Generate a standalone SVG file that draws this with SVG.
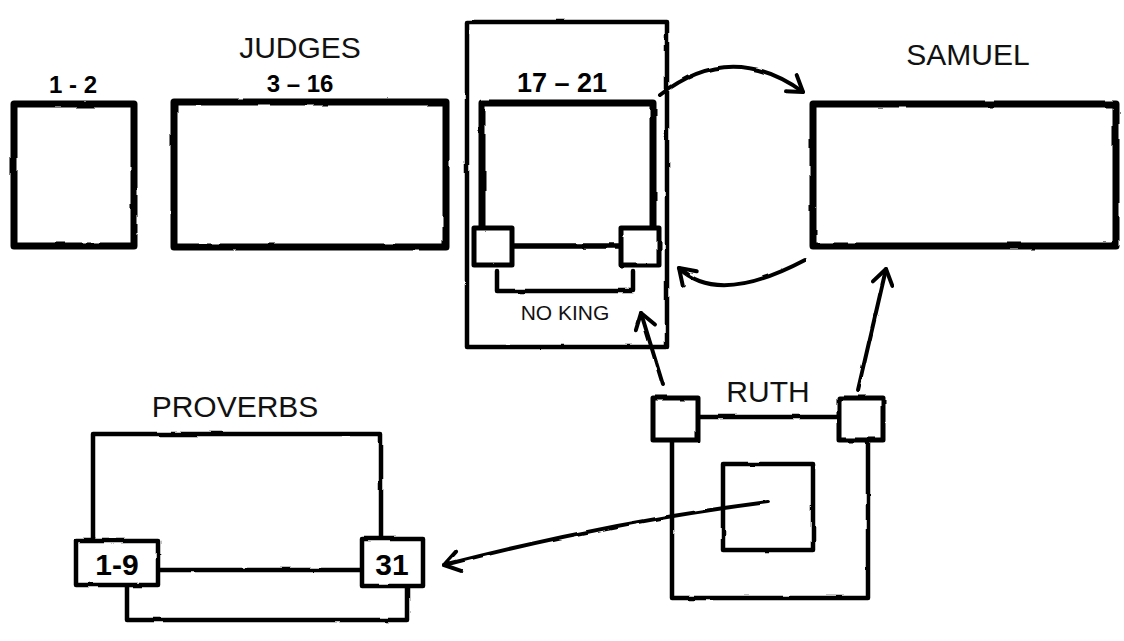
<svg xmlns="http://www.w3.org/2000/svg" width="1124" height="641" viewBox="0 0 1124 641">
<style>
.thick{fill:none;stroke:#000;stroke-width:7;stroke-linejoin:round;stroke-linecap:round}
.med{fill:none;stroke:#000;stroke-width:5.5;stroke-linejoin:round;stroke-linecap:round}
.thin{fill:none;stroke:#000;stroke-width:4.5;stroke-linejoin:round;stroke-linecap:round}
.sq{fill:#fff;stroke:#000;stroke-width:5;stroke-linejoin:round}
.lbl{font-family:"Liberation Sans",Arial,sans-serif;font-size:30px;fill:#111;text-anchor:middle}
.num{font-family:"Liberation Sans",Arial,sans-serif;font-weight:bold;font-size:24px;fill:#000;text-anchor:middle}
.conn{fill:none;stroke:#000;stroke-width:4;stroke-linecap:round}
</style>
<defs>
<filter id="rough" x="-5%" y="-5%" width="110%" height="110%">
<feTurbulence type="fractalNoise" baseFrequency="0.04" numOctaves="2" seed="3"/>
<feDisplacementMap in="SourceGraphic" scale="2.5" xChannelSelector="R" yChannelSelector="G"/>
</filter>
<marker id="ah" viewBox="-20 -12 24 24" markerWidth="24" markerHeight="24" refX="0" refY="0" orient="auto" markerUnits="userSpaceOnUse">
<path d="M-15,-10 L0,0 L-15,10" fill="none" stroke="#000" stroke-width="4" stroke-linecap="round" stroke-linejoin="round"/>
</marker>
</defs>
<rect width="1124" height="641" fill="#fff"/>

<g id="judges-1-2" filter="url(#rough)">
<rect class="thick" x="14" y="104" width="120" height="142"/>
</g>
<text class="num" x="73" y="93">1 - 2</text>

<g id="judges-3-16" filter="url(#rough)">
<rect class="thick" x="174" y="102" width="272" height="145"/>
</g>
<text class="lbl" x="300" y="58">JUDGES</text>
<text class="num" x="300" y="92">3 – 16</text>

<g id="judges-17-21">
<g filter="url(#rough)">
<rect class="thin" x="467" y="22" width="200" height="325"/>
<path class="thick" d="M482,245 L482,103 L653,103 L653,245"/>
<path class="med" d="M500,246 L635,246"/>
<rect class="sq" x="474" y="228" width="38" height="37"/>
<rect class="sq" x="621" y="228" width="38" height="37"/>
<path class="thin" d="M497,271 L497,291 L633,291 L633,271"/>
</g>
<text class="num" x="562" y="92" style="font-size:27px">17 – 21</text>
<text class="lbl" x="565" y="320" style="font-size:21px">NO KING</text>
</g>

<g id="samuel" filter="url(#rough)">
<rect class="thick" x="813" y="104" width="303" height="142"/>
</g>
<text class="lbl" x="968" y="65">SAMUEL</text>

<g id="ruth">
<g filter="url(#rough)">
<path class="thin" d="M672,440 L672,598 L868,598 L868,440"/>
<path class="thin" d="M698,417 L838,417"/>
<rect class="thin" x="723" y="464" width="90" height="86"/>
<rect class="sq" x="653" y="398" width="45" height="42"/>
<rect class="sq" x="839" y="398" width="44" height="42"/>
</g>
<text class="lbl" x="768" y="402">RUTH</text>
</g>

<g id="proverbs">
<g filter="url(#rough)">
<path class="thin" d="M93,540 L93,434 L381,434 L381,540"/>
<path class="thin" d="M158,570 L362,570"/>
<path class="thin" d="M127,586 L127,620 L407,620 L407,586"/>
<rect class="sq" x="76" y="541" width="82" height="44" style="stroke-width:4.5"/>
<rect class="sq" x="362" y="539" width="61" height="47" style="stroke-width:4.5"/>
</g>
<text class="lbl" x="235" y="417">PROVERBS</text>
<text class="num" x="117" y="575" style="font-size:30px">1-9</text>
<text class="num" x="392" y="575" style="font-size:30px">31</text>
</g>

<g id="connectors" filter="url(#rough)">
<path class="conn" d="M660,95 Q731,40 803,92" marker-end="url(#ah)"/>
<path class="conn" d="M805,260 Q718,306 679,268" marker-end="url(#ah)"/>
<path class="conn" d="M663,385 L641,313" marker-end="url(#ah)"/>
<path class="conn" d="M858,390 L886,269" marker-end="url(#ah)"/>
<path class="conn" d="M768,502 Q610,522 444,565" marker-end="url(#ah)"/>
</g>
</svg>
